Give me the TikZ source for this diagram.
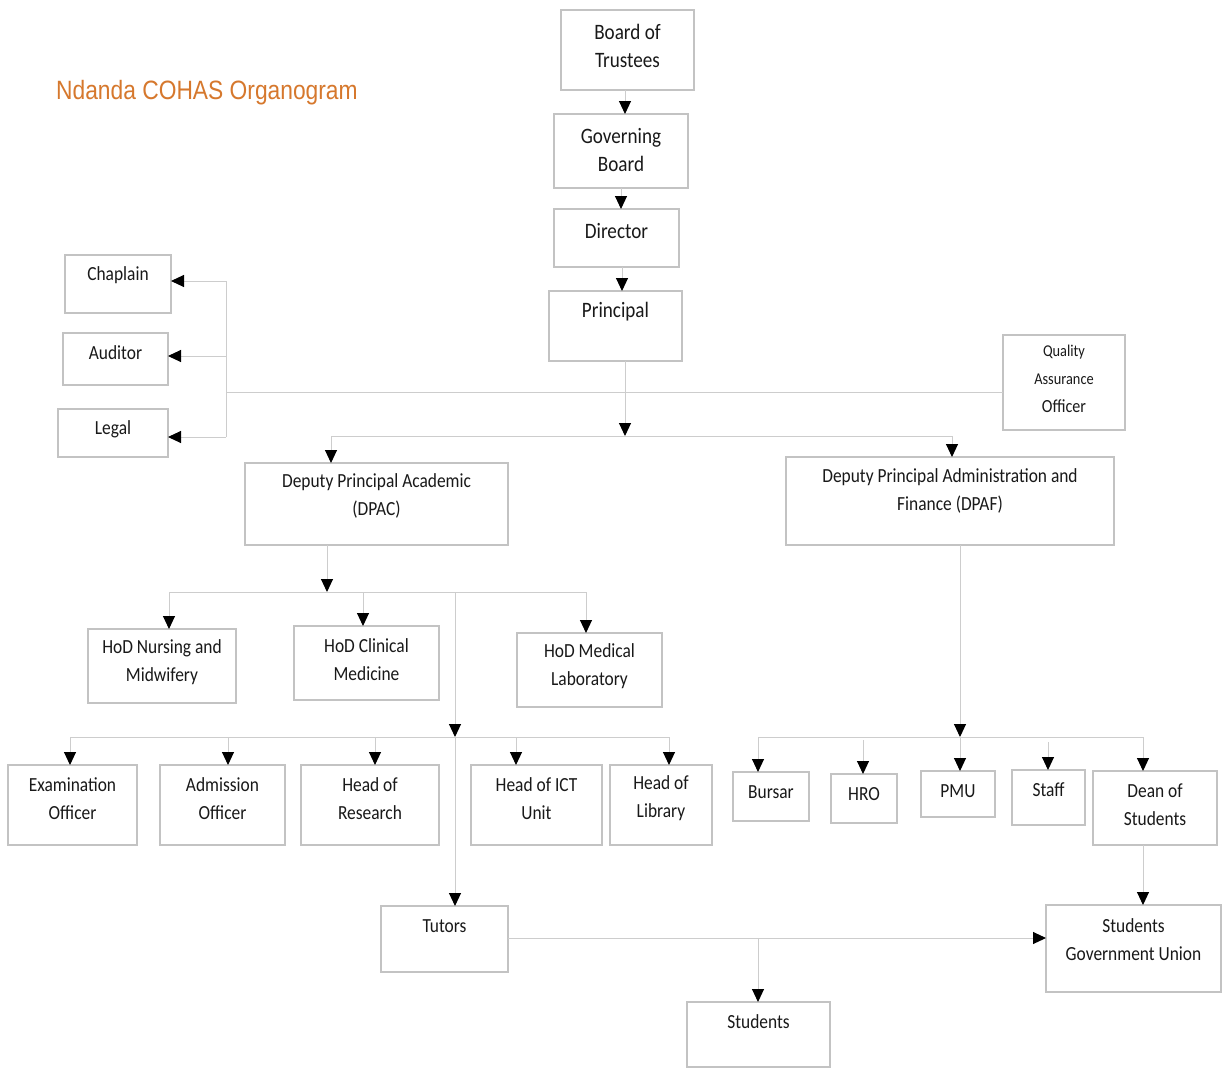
\documentclass[tikz,border=0pt]{standalone}
\usepackage{fontspec}
\setmainfont{Carlito}[FakeStretch=0.87]
\newfontfamily\titlefont{Liberation Sans}[FakeStretch=0.86]
\usetikzlibrary{arrows.meta}
\definecolor{boxgray}{RGB}{195,195,195}
\definecolor{linegray}{RGB}{205,205,205}
\definecolor{txtc}{RGB}{25,25,25}
\definecolor{titleor}{RGB}{214,120,45}
\newcommand\obox[7]{%
  \pgfmathsetmacro\bw{#4-#2}\pgfmathsetmacro\bh{#5-#3}%
  \node[obx, minimum width=\bw pt, minimum height=\bh pt] (#1) at ({(#2+#4)/2},{(#3+#5)/2}) {};%
  \node[otx] (#1-t) at ({(#2+#4)/2},#6) {#7};}
\newcommand\bigtxt{\fontsize{22}{30}\selectfont}
\begin{document}
\begin{tikzpicture}[x=1pt,y=-1pt,
  obx/.style={draw=boxgray, line width=1.1pt, inner sep=0pt, outer sep=0pt, rectangle},
  otx/.style={inner sep=0pt, align=center, text=txtc, font=\fontsize{20}{28}\selectfont},
  conn/.style={draw=linegray, line width=1pt},
  arr/.style={conn, -{Triangle[color=black, fill=black, length=13pt, width=12pt]}}]
\fill[white] (0,0) rectangle (1223,1068);
\useasboundingbox (0,0) rectangle (1223,1068);

\node[font=\titlefont\fontsize{26.5}{30}\selectfont, text=titleor, anchor=west, inner sep=0pt] (title) at (56,93) {Ndanda COHAS Organogram};

\obox{bot}{561}{10}{694}{90}{46}{\bigtxt Board of\\\bigtxt Trustees}
\obox{gb}{554}{114}{688}{188}{150}{\bigtxt Governing\\\bigtxt Board}
\obox{dir}{554}{209}{679}{267}{231}{\bigtxt Director}
\obox{pri}{549}{291}{682}{361}{312}{\bigtxt Principal}
\obox{chap}{65}{255}{171}{313}{275}{Chaplain}
\obox{aud}{63}{333}{168}{385}{353}{Auditor}
\obox{leg}{58}{409}{168}{457}{429}{Legal}
\obox{qa}{1003}{335}{1125}{430}{379}{\fontsize{16.5}{25}\selectfont Quality\\\fontsize{16.5}{25}\selectfont Assurance\\\fontsize{18.5}{26}\selectfont Officer}
\obox{dpac}{245}{463}{508}{545}{496}{\fontsize{20}{24}\selectfont Deputy Principal Academic\\\fontsize{20}{24}\selectfont (DPAC)}
\obox{dpaf}{786}{457}{1114}{545}{490.5}{Deputy Principal Administration and\\Finance (DPAF)}
\obox{hodn}{88}{629}{236}{703}{662.5}{HoD Nursing and\\Midwifery}
\obox{hodc}{294}{626}{439}{700}{659.5}{HoD Clinical\\Medicine}
\obox{hodm}{517}{633}{662}{707}{666}{HoD Medical\\Laboratory}
\obox{exam}{8}{765}{137}{845}{798.5}{Examination\\Officer}
\obox{adm}{160}{765}{285}{845}{798.5}{Admission\\Officer}
\obox{res}{301}{765}{439}{845}{798.5}{Head of\\Research}
\obox{ict}{471}{765}{602}{845}{798.5}{Head of ICT\\Unit}
\obox{lib}{610}{765}{712}{845}{798.5}{Head of\\Library}
\obox{bur}{733}{772}{809}{821}{792}{Bursar}
\obox{hro}{831}{774}{897}{823}{794}{HRO}
\obox{pmu}{921}{771}{995}{817}{791}{PMU}
\obox{staff}{1012}{770}{1085}{825}{790}{Staff}
\obox{dean}{1093}{771}{1217}{845}{804.5}{Dean of\\Students}
\obox{tut}{381}{906}{508}{972}{926}{Tutors}
\obox{sgu}{1046}{905}{1221}{992}{939.5}{Students\\Government Union}
\obox{stu}{687}{1002}{830}{1067}{1022}{Students}

% top chain
\draw[arr] (bot.south -| 625,0) -- (gb.north -| 625,0);
\draw[arr] (gb.south -| 621,0) -- (dir.north -| 621,0);
\draw[arr] (dir.south -| 622,0) -- (pri.north -| 622,0);
\coordinate (jP) at (625,436);
\coordinate (jPl) at (331,436);
\coordinate (jPr) at (952,436);
\draw[arr] (pri.south -| jP) -- (jP);
\draw[conn] (jPl) -- (jPr);
\draw[arr] (jPl) -- (dpac.north -| jPl);
\draw[arr] (jPr) -- (dpaf.north -| jPr);

% side staff
\coordinate (sT) at (226,281);
\coordinate (sM) at (226,356);
\coordinate (sB) at (226,437);
\draw[conn] (qa.west |- 0,392) -- (226,392);
\draw[conn] (sT) -- (sB);
\draw[arr] (sT) -- (chap.east |- sT);
\draw[arr] (sM) -- (aud.east |- sM);
\draw[arr] (sB) -- (leg.east |- sB);

% DPAC branch
\coordinate (jD) at (327,592);
\draw[arr] (dpac.south -| jD) -- (jD);
\draw[conn] (169,592) -- (586,592);
\draw[arr] (169,592) -- (hodn.north -| 169,0);
\draw[arr] (363,592) -- (hodc.north -| 363,0);
\draw[arr] (586,592) -- (hodm.north -| 586,0);
\coordinate (jT) at (455,737);
\draw[arr] (455,592) -- (jT);
\draw[arr] (jT) -- (tut.north -| jT);
\draw[conn] (70,737) -- (669,737);
\draw[arr] (70,737) -- (exam.north -| 70,0);
\draw[arr] (228,737) -- (adm.north -| 228,0);
\draw[arr] (375,737) -- (res.north -| 375,0);
\draw[arr] (516,737) -- (ict.north -| 516,0);
\draw[arr] (669,737) -- (lib.north -| 669,0);

% DPAF branch
\coordinate (jF) at (960,737);
\draw[arr] (dpaf.south -| jF) -- (jF);
\draw[conn] (758,737) -- (1143,737);
\draw[arr] (758,737) -- (bur.north -| 758,0);
\draw[arr] (863,740) -- (hro.north -| 863,0);
\draw[arr] (jF) -- (pmu.north -| jF);
\draw[arr] (1048,742) -- (staff.north -| 1048,0);
\draw[arr] (1143,737) -- (dean.north -| 1143,0);
\draw[arr] (dean.south -| 1143,0) -- (sgu.north -| 1143,0);

% bottom
\coordinate (jS) at (758,938);
\draw[arr] (tut.east |- jS) -- (sgu.west |- jS);
\draw[arr] (jS) -- (stu.north -| jS);
\end{tikzpicture}
\end{document}
